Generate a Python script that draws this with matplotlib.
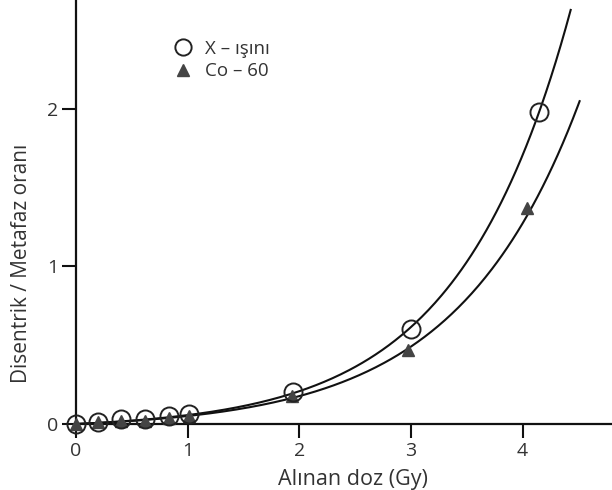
import numpy as np
import matplotlib
matplotlib.use("Agg")
import matplotlib.pyplot as plt

# measured points
xray_dose = [0.0, 0.2, 0.4, 0.62, 0.83, 1.01, 1.94, 3.0, 4.15]
xray_ratio = [0.0, 0.015, 0.03, 0.03, 0.05, 0.065, 0.2, 0.6, 1.98]
co_dose = [0.0, 0.2, 0.4, 0.62, 0.83, 1.01, 1.93, 2.97, 4.04]
co_ratio = [0.0, 0.01, 0.02, 0.02, 0.04, 0.05, 0.18, 0.47, 1.37]

# points
xray_curve_x = [0.0, 1.0, 1.94, 2.99, 3.49, 3.61, 3.83, 4.145, 4.43]
xray_curve_y = [0.0, 0.06, 0.2, 0.6, 1.06, 1.12, 1.43, 1.975, 2.63]
co_curve_x = [0.0, 1.0, 2.0, 2.97, 3.49, 3.86, 4.145, 4.51]
co_curve_y = [0.0, 0.05, 0.17, 0.48, 0.805, 1.12, 1.43, 2.06]

labels = ["X – ışını", "Co – 60"]
x_ticks = [0, 1, 2, 3, 4]
y_ticks = [0, 1, 2]


def fit_curve(xs, ys):
    # least squares fit of y = a*(exp(b*x) - 1) to the traced points
    xs = np.array(xs)
    ys = np.array(ys)
    best = None
    for b in np.linspace(0.3, 2.0, 1701):
        g = np.exp(b * xs) - 1
        a = (g @ ys) / (g @ g)
        err = ((a * g - ys) ** 2).sum()
        if best is None or err < best[0]:
            best = (err, a, b)
    xx = np.linspace(xs.min(), xs.max(), 300)
    return xx, best[1] * (np.exp(best[2] * xx) - 1)


plt.rcParams['font.family'] = ['Open Sans', 'DejaVu Sans']
txt = '#333333'

fig = plt.figure(figsize=(6.12, 4.9), dpi=100)
ax = fig.add_axes([76 / 612, 66 / 490, 536 / 612, 424 / 490])

cx, cy = fit_curve(xray_curve_x, xray_curve_y)
ax.plot(cx, cy, color='#111111', lw=1.5)
cx, cy = fit_curve(co_curve_x, co_curve_y)
ax.plot(cx, cy, color='#111111', lw=1.5)

ax.plot(xray_dose, xray_ratio, 'o', ms=13, mfc='none', mec='#222222', mew=1.4,
        clip_on=False, label=labels[0], zorder=4)
ax.plot(co_dose, co_ratio, '^', ms=9, color='#444444', mec='#444444',
        clip_on=False, label=labels[1], zorder=3)

ax.set_xlim(0, 4.8)
ax.set_ylim(0, 2.69)
ax.set_xticks(x_ticks)
ax.set_yticks(y_ticks)

for s in ['top', 'right']:
    ax.spines[s].set_visible(False)
for s in ['left', 'bottom']:
    ax.spines[s].set_linewidth(1.6)
    ax.spines[s].set_color('#111111')
ax.tick_params(direction='out', length=10, width=1.5, color='#111111',
               labelsize=14, labelcolor=txt, pad=3)

ax.set_xlabel("Alınan doz (Gy)", fontsize=15.5, color=txt, labelpad=3)
ax.xaxis.set_label_coords(0.517, -0.105)
ax.set_ylabel("Disentrik / Metafaz oranı", fontsize=15, color=txt)
ax.yaxis.label.set_va('center')
ax.yaxis.set_label_coords(-54 / 536, 0.38)

ax.legend(loc='upper left', bbox_to_anchor=(166 / 612, 1 - 32 / 490),
          bbox_transform=fig.transFigure, frameon=False, fontsize=13.5,
          handlelength=1.0, handletextpad=0.7, labelspacing=0.25,
          borderaxespad=0, labelcolor=txt, markerscale=0.9)

fig.savefig("out.png", dpi=100)
